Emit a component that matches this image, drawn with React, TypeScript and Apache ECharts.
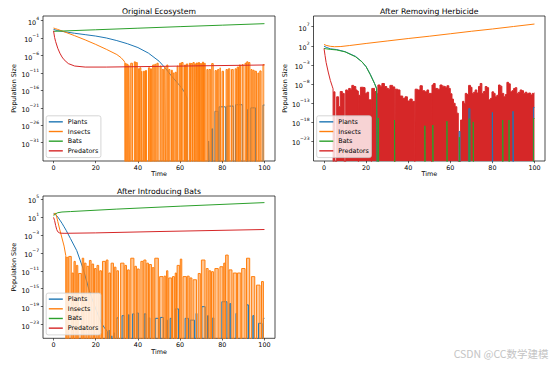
import React, { useEffect, useRef } from "react";
import * as echarts from "echarts";

// values are base-10 exponents of population size (log scale); OFF = value <= 0 (clipped off the log axis)
const OFF = -40;
const xTicks = [0, 20, 40, 60, 80, 100];
const p1YTicks = [-31, -26, -21, -16, -11, -6, -1, 4];
const p2YTicks = [-23, -18, -13, -8, -3, 2, 7];
const p3YTicks = [-23, -19, -15, -11, -7, -3, 1, 5];
const seriesNames = ["Plants", "Insects", "Bats", "Predators"];
const titles = ["Original Ecosystem", "After Removing Herbicide", "After Introducing Bats"];

// ---------- Original Ecosystem ----------
const p1Plants = [[0, 1.5], [2, 1.15], [5, 0.85], [10, 0.4], [15, 0.0], [20, -0.4], [25, -0.95], [30, -1.7], [35, -2.6], [40, -3.7], [45, -5.3], [50, -7.6], [53, -9.6], [56, -11.9], [59, -14.0], [61, -15.5], [62.5, -16.9], [63.2, -18.2], [63.3, OFF]];
// spikes: [start time, end time, peak exponent]
const p1PlantsSpikes = [[73.5, 73.8, -30.5], [75.0, 75.4, -27.0], [76.5, 78.0, -22.0], [78.5, 81.5, -20.7], [82.2, 85.3, -20.5], [86.3, 89.5, -20.1], [91.5, 92.0, -21.5], [93.5, 95.7, -21.0], [99.3, 100, -20.2]];
const p1Insects = [[0, 1.9], [1, 1.7], [2, 1.5], [5, 0.85], [10, -0.3], [15, -1.5], [20, -2.8], [25, -4.2], [30, -5.7], [32, -6.6], [33.5, -7.6], [33.8, -8.0], [33.9, OFF]];
const p1InsectsSpikes = [
  [34.0, 34.5, -8.3], [34.9, 35.3, -8.5], [35.7, 36.0, -8.8], [36.6, 37.4, -8.2], [38.3, 38.8, -7.8], [39.2, 39.7, -8.0],
  [40.2, 40.6, -9.8], [40.9, 41.4, -9.5], [41.8, 42.0, -10.5], [42.6, 43.2, -10.5], [43.6, 44.1, -10.3], [45.0, 45.6, -9.5],
  [46.0, 46.4, -9.8], [47.0, 47.6, -8.7], [48.0, 48.5, -8.5], [49.0, 49.6, -8.2], [50.5, 51.0, -9.0], [51.5, 52.2, -10.0],
  [52.8, 53.1, -9.2], [53.7, 54.2, -8.7], [54.6, 55.2, -10.0], [55.9, 56.3, -10.2], [56.7, 57.1, -11.0], [57.6, 58.2, -10.8],
  [58.6, 59.0, -9.0], [59.8, 60.3, -8.2], [60.7, 61.4, -8.0], [62.1, 62.6, -8.7], [63.0, 63.6, -8.4], [64.4, 64.9, -8.2],
  [65.2, 65.8, -8.3], [66.1, 66.7, -8.0], [67.0, 67.5, -8.4], [67.8, 68.2, -8.1], [68.7, 69.2, -8.0], [69.6, 70.2, -8.3],
  [70.6, 71.1, -7.9], [71.5, 71.9, -8.2], [72.7, 73.2, -10.0], [73.7, 74.5, -10.0], [75.0, 75.7, -8.3], [76.6, 77.2, -10.3],
  [77.8, 78.4, -10.0], [79.0, 79.3, -9.5], [79.9, 80.6, -10.5], [81.8, 82.4, -10.0], [82.9, 83.6, -9.8], [84.4, 85.2, -10.0],
  [86.1, 86.7, -9.8], [87.1, 87.7, -9.3], [88.1, 88.6, -8.7], [89.4, 89.9, -8.6], [90.8, 91.4, -8.2], [91.6, 92.2, -7.8],
  [92.5, 93.1, -8.0], [93.6, 94.1, -10.0], [94.5, 95.1, -10.2], [95.5, 96.2, -10.5], [96.9, 97.3, -11.0], [97.8, 98.4, -10.4],
  [99.3, 100, -8.6]
];
const p1Bats = [[0, 0.95], [20, 1.4], [40, 1.85], [60, 2.3], [80, 2.72], [100, 3.15]];
const p1Predators = [[0, 1.1], [0.5, -0.8], [1, -2.0], [2, -3.9], [3, -5.3], [4, -6.4], [5, -7.2], [7, -8.3], [10, -9.0], [15, -9.3], [25, -9.3], [50, -9.1], [75, -8.9], [100, -8.7]];

// ---------- After Removing Herbicide ----------
const p2Plants = [[0, 1.9], [1, 1.6], [3, 1.2], [6, 1.0], [10, 0.45], [15, -0.8], [18, -2.2], [20, -3.5], [22, -5.5], [24, -7.9], [25, -9.2], [25.3, OFF]];
const p2PlantsSpikes = [[64.2, 64.6, -20.5], [68.8, 69.3, -14.5], [80.0, 80.3, -15.5], [89.8, 90.1, -15.2], [99.5, 100, -14.2]];
const p2Insects = [[0, 2.35], [1, 2.1], [3, 1.85], [5, 1.75], [8, 1.8], [12, 2.05], [20, 2.6], [30, 3.25], [40, 3.9], [50, 4.5], [60, 5.15], [70, 5.8], [80, 6.4], [90, 7.05], [100, 7.7]];
const p2Bats = [[0, 1.3], [1, 1.2], [3, 1.05], [6, 0.9], [10, 0.4], [15, -0.9], [18, -2.2], [20, -3.5], [22, -5.6], [24, -7.9], [25, -9.3], [25.4, OFF]];
const p2BatsSpikes = [[25.8, 26.1, -17.0], [33.5, 33.8, -17.5], [47.9, 48.2, -19.0], [51.7, 52.0, -18.8], [58.4, 58.7, -17.8], [64.3, 64.6, -22.0], [68.9, 69.3, -17.2], [70.9, 71.2, -18.0], [84.9, 85.2, -17.5], [87.9, 88.2, -17.5], [99.5, 100, -17.1]];
const p2Predators = [[0, 1.3], [0.5, -0.6], [1, -2.4], [2, -4.9], [3, -7.1], [4, -8.8], [4.3, -9.3], [4.35, OFF]];
const p2PredatorsSpikes = [
  [4.6, 5.2, -10.1], [6.0, 6.9, -11.4], [6.9, 7.7, -14.0], [7.7, 8.7, -10.0], [8.7, 9.6, -10.5],
  [10.3, 11.1, -9.6], [11.1, 11.7, -9.8], [11.7, 12.5, -9.2], [12.5, 13.2, -9.4], [13.2, 14.1, -8.4], [14.1, 15.1, -8.7],
  [15.1, 15.7, -9.6], [15.7, 16.3, -9.9], [16.5, 17.3, -11.0], [17.3, 18.4, -8.9], [18.4, 19.5, -9.0], [19.5, 20.4, -10.5],
  [20.4, 21.2, -10.2], [21.2, 22.5, -12.2], [22.7, 24.0, -9.2], [24.0, 24.8, -10.0], [24.8, 25.6, -10.5], [25.6, 26.6, -8.3],
  [26.6, 27.5, -8.6], [27.5, 28.7, -7.9], [28.7, 29.8, -8.7], [29.8, 30.7, -9.2], [30.7, 31.3, -9.5], [31.3, 32.6, -8.4],
  [32.6, 33.6, -8.8], [33.8, 35.0, -9.4], [35.0, 36.1, -9.6], [36.1, 37.4, -11.2], [37.4, 38.5, -11.8], [38.5, 39.6, -11.4],
  [39.6, 40.8, -12.5], [40.8, 41.9, -12.0], [41.9, 43.1, -12.6], [43.3, 44.4, -9.4], [44.4, 45.6, -9.6], [45.6, 46.7, -8.5],
  [46.7, 47.9, -9.8], [47.9, 48.9, -10.1], [48.9, 49.7, -9.6], [49.7, 51.1, -10.5], [51.3, 52.0, -8.3], [52.0, 52.8, -7.9],
  [52.8, 54.0, -9.2], [54.0, 55.1, -9.4], [55.1, 56.1, -8.3], [56.1, 56.7, -8.6], [56.7, 57.7, -8.7], [57.7, 58.4, -9.0],
  [58.4, 59.3, -8.5], [59.3, 60.0, -9.2], [60.0, 60.8, -10.6], [60.8, 61.5, -12.0], [61.5, 62.3, -13.1], [62.3, 63.1, -14.0],
  [63.1, 63.8, -15.7], [64.9, 65.8, -17.5], [65.8, 66.5, -12.6], [66.5, 67.1, -13.2], [67.1, 67.9, -10.5], [67.9, 68.7, -10.8],
  [68.7, 69.6, -8.4], [69.6, 70.3, -8.9], [70.3, 71.1, -10.5], [71.1, 71.8, -10.2], [71.8, 72.6, -9.6], [72.6, 73.4, -10.4],
  [73.4, 74.2, -8.7], [74.2, 75.0, -7.9], [75.0, 75.8, -10.5], [75.8, 76.6, -10.0], [76.6, 77.4, -8.7], [77.4, 78.2, -9.0],
  [78.2, 79.1, -12.2], [79.1, 79.8, -11.8], [79.8, 80.6, -10.1], [80.6, 81.3, -10.5], [81.3, 82.1, -11.4], [82.1, 82.9, -11.0],
  [82.9, 83.7, -8.3], [83.7, 84.5, -8.6], [84.5, 85.4, -10.5], [85.4, 86.2, -11.4], [86.2, 86.9, -10.8], [86.9, 87.7, -7.6],
  [87.7, 88.5, -8.0], [88.5, 89.3, -10.1], [89.3, 90.1, -9.8], [90.1, 90.9, -9.2], [90.9, 91.6, -9.0], [91.6, 92.4, -10.5],
  [92.4, 93.2, -10.2], [93.2, 94.0, -9.6], [94.0, 94.8, -9.8], [94.8, 95.6, -10.5], [95.6, 96.4, -10.2], [96.4, 97.2, -10.6],
  [97.2, 98.1, -10.4], [98.1, 98.9, -10.9], [98.9, 99.7, -10.5], [99.7, 100, -10.4]
];

// ---------- After Introducing Bats ----------
const p3Plants = [[0, 1.8], [1, 1.5], [2, 1.0], [3, 0.3], [4, -0.4], [5, -1.2], [6, -2.0], [8, -3.8], [11, -6.5], [14, -10.5], [17, -15.5], [20, -19.5], [22.7, -22.7], [24, -23.6], [25.5, -24.5], [25.8, OFF]];
const p3PlantsSpikes = [
  [26.3, 26.6, -24.2], [27.6, 27.9, -25.5], [28.7, 29.0, -24.8], [30.0, 30.8, -21.5], [32.5, 33.5, -21.0], [35.5, 35.9, -20.8],
  [37.5, 38.3, -20.6], [39.5, 40.2, -20.4], [43.0, 43.8, -20.6], [45.0, 45.6, -21.5], [48.2, 49.8, -21.6], [50.6, 52.1, -21.4],
  [53.5, 54.0, -22.0], [55.3, 56.2, -21.6], [57.7, 59.3, -19.5], [62.4, 64.0, -21.6], [64.8, 66.8, -22.0], [67.6, 68.0, -20.5],
  [70.3, 71.9, -19.0], [73.0, 73.5, -21.0], [75.5, 76.0, -21.5], [79.8, 82.2, -17.9], [83.5, 84.0, -18.3], [86.5, 87.0, -20.5],
  [91.6, 92.4, -18.6], [94.5, 95.0, -21.0], [97.2, 98.8, -22.7], [99.5, 100, -21.6]
];
const p3Insects = [[0, 1.5], [0.7, 1.9], [1.3, 1.4], [2, 0.0], [3, -1.9], [4, -3.7], [5, -5.5], [5.8, -7.6], [5.9, OFF]];
const p3InsectsSpikes = [
  [6.0, 6.8, -8.0], [7.2, 8.4, -7.8], [8.8, 9.4, -11.5], [9.7, 10.3, -8.9], [10.8, 11.5, -9.8], [11.8, 13.2, -11.6],
  [13.6, 14.3, -8.2], [14.6, 15.4, -9.3], [15.8, 16.7, -10.0], [17.0, 17.8, -8.7], [18.2, 19.0, -9.5], [19.4, 20.2, -10.5],
  [20.6, 21.4, -9.8], [21.9, 22.7, -11.0], [23.2, 24.6, -8.9], [25.0, 25.8, -8.6], [26.2, 27.0, -11.5], [27.3, 28.4, -9.3],
  [28.8, 29.6, -10.2], [30.0, 30.8, -11.0], [31.8, 33.4, -9.3], [33.8, 34.6, -9.8], [35.1, 35.9, -10.8], [36.6, 38.1, -8.2],
  [38.5, 39.3, -10.0], [39.7, 40.6, -10.6], [41.4, 42.4, -8.9], [42.8, 43.8, -8.6], [44.2, 45.0, -9.3], [45.4, 46.4, -9.6],
  [46.8, 47.6, -10.3], [48.0, 49.7, -8.2], [50.3, 51.9, -12.3], [52.4, 53.2, -12.2], [53.6, 54.2, -11.0], [54.6, 56.0, -12.6],
  [56.4, 57.3, -12.3], [57.7, 58.3, -11.5], [58.6, 59.8, -9.8], [60.1, 60.8, -8.4], [61.4, 63.0, -12.3], [63.4, 64.3, -12.2],
  [64.7, 65.6, -12.6], [66.2, 67.8, -13.0], [68.6, 69.6, -11.6], [70.1, 71.8, -8.6], [72.4, 73.3, -10.5], [73.7, 74.5, -11.0],
  [74.9, 75.8, -11.2], [76.5, 78.1, -10.5], [78.9, 80.3, -10.1], [80.7, 81.3, -9.3], [81.6, 82.8, -7.5], [83.2, 84.6, -10.8],
  [85.2, 86.8, -11.5], [87.2, 88.8, -11.5], [89.2, 90.8, -10.5], [91.5, 93.0, -8.2], [93.8, 95.4, -12.3], [96.2, 97.9, -14.2],
  [98.6, 99.5, -13.4]
];
const p3Bats = [[0, 1.3], [1, 1.7], [2, 1.95], [4, 2.1], [8, 2.2], [30, 2.75], [60, 3.4], [100, 4.2]];
const p3Predators = [[0, 0.9], [0.5, 0.2], [1, -0.9], [1.5, -1.8], [2, -2.3], [3, -2.6], [5, -2.65], [20, -2.55], [50, -2.25], [100, -1.8]];

const COLORS: Record<string, string> = { Plants: "#1f77b4", Insects: "#ff7f0e", Bats: "#2ca02c", Predators: "#d62728" };
const FONT = "DejaVu Sans";

// turn read spike records into line points (drop to OFF between separated spikes)
function spikePoints(spikes: number[][]) {
  const pts: number[][] = [];
  spikes.forEach(([s, e, top], i) => {
    const prev = spikes[i - 1];
    const next = spikes[i + 1];
    if (!prev || prev[1] !== s) pts.push([s, OFF]);
    pts.push([s, top], [e, top]);
    if (e < 100 && !(next && next[0] === e)) pts.push([e, OFF]);
  });
  return pts;
}

const grids = [
  { left: 43, top: 16, width: 232, height: 145 },
  { left: 313.5, top: 16, width: 231.5, height: 145 },
  { left: 43, top: 196, width: 232, height: 142.3 },
];
const yRanges = [[-36.24, 5.35], [-28.25, 9.81], [-26.05, 5.67]];
const yTicks = [p1YTicks, p2YTicks, p3YTicks];

const supLabel = (v: number) => `{b|10}{s|${v < 0 ? "\u2212" + Math.abs(v) : v}}`;

function line(name: string, gi: number, data: number[][], z = 2, extra: any = {}) {
  const c = COLORS[name];
  return {
    type: "line", name, xAxisIndex: gi, yAxisIndex: gi, data, z,
    showSymbol: false, symbol: "none", clip: true, silent: true, animation: false,
    lineStyle: { color: c, width: 1 }, itemStyle: { color: c }, ...extra,
  };
}
const fill = (name: string, opacity: number) => ({ areaStyle: { color: COLORS[name], opacity, origin: "start" } });

function buildOption() {
  const xAxis = grids.map((_, i) => ({
    type: "value", gridIndex: i, min: -5, max: 105, position: "bottom",
    name: "Time", nameLocation: "middle", nameGap: 10,
    nameTextStyle: { fontFamily: FONT, fontSize: 6.4, color: "#000" },
    axisLine: { show: false, onZero: false }, splitLine: { show: false },
    axisTick: { show: true, length: 2.2, customValues: xTicks, lineStyle: { color: "#000", width: 0.6 } },
    axisLabel: { customValues: xTicks, fontFamily: FONT, fontSize: 6.4, color: "#000", margin: 3.5 },
  }));
  const yAxis = grids.map((_, i) => ({
    type: "value", gridIndex: i, min: yRanges[i][0], max: yRanges[i][1], position: "left",
    name: "Population Size", nameLocation: "middle", nameGap: 25,
    nameTextStyle: { fontFamily: FONT, fontSize: 6.4, color: "#000" },
    axisLine: { show: false, onZero: false }, splitLine: { show: false },
    axisTick: { show: true, length: 2.2, customValues: yTicks[i], lineStyle: { color: "#000", width: 0.6 } },
    axisLabel: {
      customValues: yTicks[i], margin: 4, formatter: (v: number) => supLabel(Math.round(v)),
      rich: {
        b: { fontFamily: FONT, fontSize: 6.4, color: "#000", lineHeight: 10, verticalAlign: "bottom" },
        s: { fontFamily: FONT, fontSize: 4.5, color: "#000", lineHeight: 4, verticalAlign: "top" },
      },
    },
  }));
  const legendTops = [115.8, 115.8, 293.1];
  const legend = grids.map((g, i) => ({
    data: seriesNames, orient: "vertical", left: g.left + 3.2, top: legendTops[i],
    padding: [1.2, 2.6, 1.9, 2.6], itemGap: 0, itemWidth: 14, itemHeight: 1.4, icon: "rect",
    selectedMode: false, backgroundColor: "rgba(255,255,255,0.8)", borderColor: "#cccccc", borderWidth: 0.8, borderRadius: 2,
    textStyle: { fontFamily: FONT, fontSize: 6.4, color: "#000", lineHeight: 9.67 },
  }));
  const series = [
    line("Plants", 0, p1Plants),
    line("Plants", 0, spikePoints(p1PlantsSpikes)),
    line("Insects", 0, p1Insects),
    line("Insects", 0, spikePoints(p1InsectsSpikes), 2, fill("Insects", 0.5)),
    line("Bats", 0, p1Bats),
    line("Predators", 0, p1Predators),

    line("Predators", 1, p2Predators),
    line("Predators", 1, spikePoints(p2PredatorsSpikes), 2, fill("Predators", 1)),
    line("Plants", 1, p2Plants, 3),
    line("Plants", 1, spikePoints(p2PlantsSpikes), 3),
    line("Insects", 1, p2Insects, 3),
    line("Bats", 1, p2Bats, 3),
    line("Bats", 1, spikePoints(p2BatsSpikes), 3),

    line("Plants", 2, p3Plants),
    line("Plants", 2, spikePoints(p3PlantsSpikes)),
    line("Insects", 2, p3Insects),
    line("Insects", 2, spikePoints(p3InsectsSpikes), 2, fill("Insects", 0.45)),
    line("Bats", 2, p3Bats),
    line("Predators", 2, p3Predators),
  ];
  const graphic = [
    ...grids.map((g, i) => ({
      type: "text", x: g.left + g.width / 2, y: g.top - 5, silent: true,
      style: { text: titles[i], fill: "#000", fontFamily: FONT, fontSize: 7.7, align: "center", verticalAlign: "middle" },
    })),
    {
      type: "text", x: 548.5, y: 353, silent: true,
      style: { text: "CSDN @CC数学建模", fill: "#c4c4c4", fontFamily: "Noto Sans CJK SC", fontSize: 10.5, align: "right", verticalAlign: "middle" },
    },
  ];
  return {
    animation: false,
    backgroundColor: "#ffffff",
    grid: grids.map((g) => ({ ...g, show: true, borderColor: "#000", borderWidth: 0.7, backgroundColor: "transparent", containLabel: false, outerBoundsMode: "none" })),
    xAxis, yAxis, legend, series, graphic,
  };
}

export default function App() {
  const ref = useRef<HTMLDivElement>(null);
  useEffect(() => {
    const chart = echarts.init(ref.current!, null, { renderer: "svg" });
    chart.setOption(buildOption() as any);
    return () => chart.dispose();
  }, []);
  return <div ref={ref} style={{ position: "absolute", left: 0, top: 0, width: 553, height: 365, background: "#fff" }} />;
}
